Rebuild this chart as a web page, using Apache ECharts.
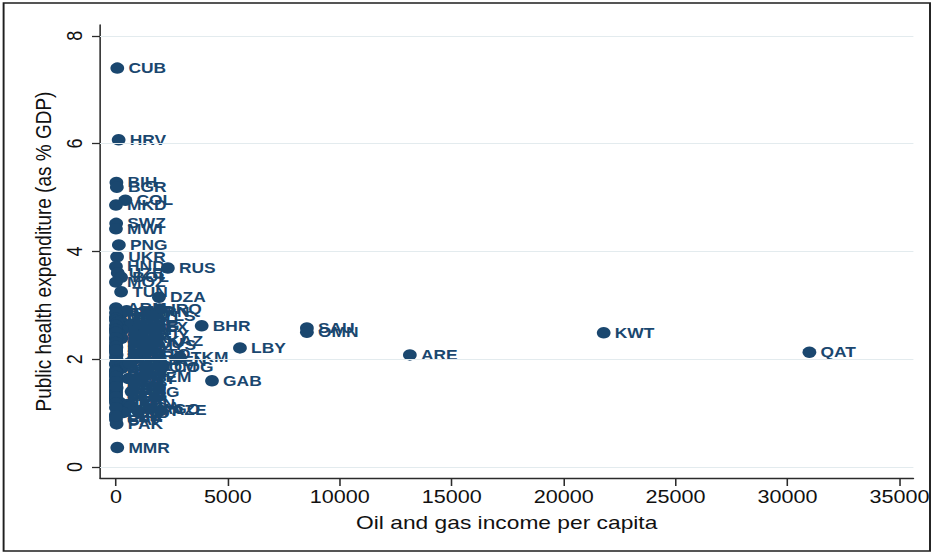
<!DOCTYPE html>
<html>
<head>
<meta charset="utf-8">
<script src="https://cdn.jsdelivr.net/npm/echarts@6/dist/echarts.min.js"></script>
<style>
  html, body { margin: 0; padding: 0; background: #ffffff; overflow: hidden; }
  /* The chart is laid out narrower and widened to the full page width */
  #chart { width: 778px; height: 554px; transform: scaleX(1.19923); transform-origin: 0 0; }
</style>
</head>
<body>
<div id="chart"></div>
<script>
// Country codes (ISO3), oil and gas income per capita, public health expenditure (% GDP)
const codes = [
  "CUB","HRV","BIH","BGR","COL","MKD","SWZ","MWI","PNG","UKR",
  "HND","RUS","UZB","BOL","MOZ","TUN","DZA","IRQ","ARM","IRN",
  "ROU","SRB","MDA","THA","ALB","BRA","SYR","ARG","MEX","NIC",
  "VNM","KGZ","MNG","TJK","ZAF","PER","JOR","BLZ","KAZ","ECU",
  "MYS","LBN","GEO","SLV","MAR","BTN","TTO","TUR","TKM","GTM",
  "PHL","VEN","CHN","KEN","LKA","CMR","COG","IDN","DOM","SEN",
  "GHA","UGA","HTI","YEM","EGY","BEN","TZA","LAO","MLI","ETH",
  "BGD","KHM","NPL","ZMB","BFA","MDG","TGO","SLE","NER","CIV",
  "SDN","NGA","AGO","AZE","TCD","GIN","LBR","CAF","PAK","GAB",
  "LBY","BHR","SAU","OMN","ARE","KWT","QAT","MMR",
  "SUR","PAN","TLS","CRI","URY","CHL","BWA","NAM","JAM","GUY",
  "FJI","MUS","LSO","ZWE","MRT","SSD","DJI","COM","RWA","BDI",
  "GMB","GNB","AFG","SOM","ERI","PRY","STP","SLB"
];
const oilIncome = [
  60, 120, 20, 40, 420, 0, 10, 0, 130, 50,
  0, 2320, 80, 230, 0, 230, 1920, 1960, 0, 1450,
  260, 40, 0, 150, 90, 310, 720, 620, 1050, 0,
  280, 30, 100, 10, 40, 250, 0, 70, 1800, 900,
  1400, 0, 20, 0, 10, 0, 1300, 30, 2850, 0,
  20, 1950, 70, 0, 0, 220, 2100, 260, 0, 0,
  30, 0, 0, 1200, 560, 0, 0, 0, 0, 0,
  30, 0, 0, 0, 0, 0, 0, 0, 0, 160,
  520, 640, 1500, 2000, 320, 0, 0, 0, 30, 4290,
  5540, 3830, 8530, 8530, 13130, 21790, 30980, 60,
  480, 0, 1600, 0, 0, 60, 0, 0, 0, 1100,
  0, 0, 0, 0, 900, 800, 600, 1300, 0, 0,
  0, 0, 700, 0, 0, 0, 1000, 0
];
const healthExp = [
  7.40, 6.07, 5.28, 5.19, 4.95, 4.86, 4.52, 4.42, 4.12, 3.90,
  3.72, 3.69, 3.60, 3.52, 3.43, 3.25, 3.15, 2.93, 2.95, 2.88,
  2.85, 2.81, 2.78, 2.74, 2.70, 2.67, 2.64, 2.62, 2.60, 2.57,
  2.54, 2.51, 2.48, 2.45, 2.42, 2.39, 2.37, 2.35, 2.34, 2.30,
  2.27, 2.25, 2.22, 2.19, 2.15, 2.12, 2.10, 2.08, 2.04, 2.04,
  2.01, 1.97, 1.95, 1.92, 1.90, 1.88, 1.86, 1.83, 1.80, 1.78,
  1.75, 1.72, 1.70, 1.67, 1.64, 1.62, 1.59, 1.56, 1.53, 1.50,
  1.47, 1.44, 1.41, 1.38, 1.35, 1.32, 1.29, 1.26, 1.23, 1.20,
  1.16, 1.12, 1.08, 1.05, 1.01, 0.97, 0.93, 0.88, 0.80, 1.60,
  2.21, 2.62, 2.58, 2.50, 2.08, 2.49, 2.13, 0.36,
  2.90, 2.86, 2.80, 2.76, 2.72, 2.68, 2.63, 2.55, 2.50, 2.44,
  2.40, 2.31, 2.24, 2.17, 2.06, 1.99, 1.93, 1.85, 1.76, 1.68,
  1.58, 1.49, 1.40, 1.30, 1.19, 1.10, 1.03, 0.95
];

// Axis ticks
const xTicks = [0, 5000, 10000, 15000, 20000, 25000, 30000, 35000];
const yTicks = [0, 2, 4, 6, 8];

const points = codes.map((c, i) => [oilIncome[i], healthExp[i], c]);

const navy = '#1a476f';
const axisColor = '#2b2b2b';
const font = '"Liberation Sans", Arial, Helvetica, sans-serif';

const chart = echarts.init(document.getElementById('chart'), null, { renderer: 'svg' });

chart.setOption({
  animation: false,
  backgroundColor: '#ffffff',
  graphic: [{
    type: 'rect',
    shape: { x: 3, y: 3, width: 772.5, height: 548 },
    style: { fill: 'none', stroke: '#1e1e1e', lineWidth: 1.6 },
    silent: true,
    z: 0
  }],
  grid: { left: 83.4, right: 15.8, top: 25, bottom: 76, containLabel: false },
  xAxis: {
    type: 'value',
    min: -712,
    max: 35626,
    name: 'Oil and gas income per capita',
    nameLocation: 'middle',
    nameGap: 35,
    nameTextStyle: { fontFamily: font, fontSize: 19, color: '#111' },
    axisLine: { show: true, onZero: false, lineStyle: { color: axisColor, width: 1.3 } },
    axisTick: { show: true, length: 8, customValues: xTicks, lineStyle: { color: axisColor, width: 1.3 } },
    axisLabel: {
      customValues: xTicks,
      formatter: v => String(Math.round(v)),
      fontFamily: font, fontSize: 18, color: '#111', margin: 10
    },
    splitLine: { show: false }
  },
  yAxis: {
    type: 'value',
    min: -0.204,
    max: 8.2,
    name: 'Public health expenditure (as % GDP)',
    nameLocation: 'middle',
    nameGap: 34,
    nameRotate: 90,
    nameTextStyle: { fontFamily: font, fontSize: 19, color: '#111' },
    axisLine: { show: true, onZero: false, lineStyle: { color: axisColor, width: 1.3 } },
    axisTick: { show: true, length: 6.7, customValues: yTicks, lineStyle: { color: axisColor, width: 1.3 } },
    axisLabel: {
      customValues: yTicks,
      formatter: v => String(Math.round(v)),
      rotate: 90, fontFamily: font, fontSize: 18, color: '#111', margin: 12
    },
    splitLine: { show: false }
  },
  series: [
    {
      // horizontal grid lines at the y ticks
      type: 'scatter',
      data: [],
      z: 1,
      silent: true,
      markLine: {
        silent: true,
        symbol: ['none', 'none'],
        label: { show: false },
        lineStyle: { color: '#e3ebee', width: 1.2, type: 'solid' },
        data: yTicks.map(v => ({ yAxis: v }))
      }
    },
    {
      type: 'scatter',
      z: 3,
      data: points,
      symbol: 'circle',
      symbolSize: 11.5,
      itemStyle: { color: navy, opacity: 1 },
      label: {
        show: true,
        position: 'right',
        distance: 3.5,
        formatter: p => p.data[2],
        fontFamily: font,
        fontSize: 14.5,
        fontWeight: 'bold',
        color: navy
      },
      emphasis: { disabled: true }
    }
  ]
});
</script>
</body>
</html>
